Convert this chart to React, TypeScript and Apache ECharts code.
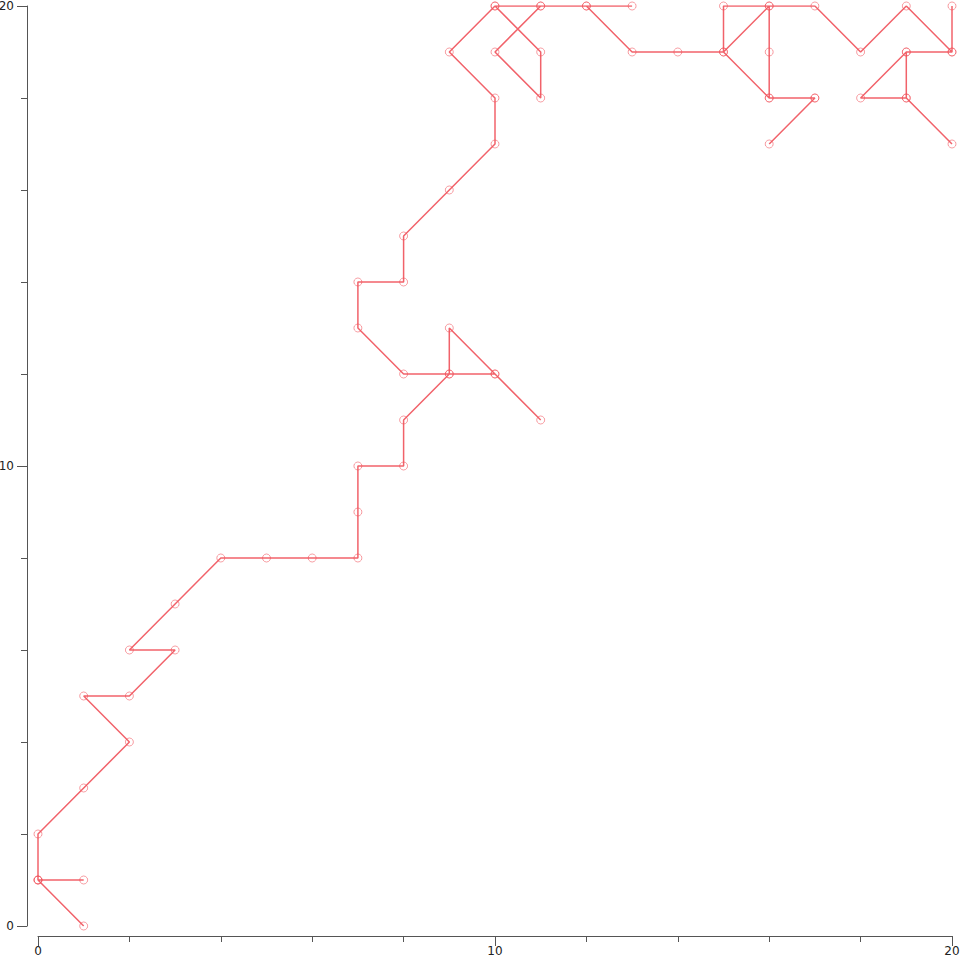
import React, { useEffect, useRef } from "react";
import * as echarts from "echarts";

// Random-walk path, in visiting order
const walkX = [0, 1, 0, 1, 0, 0, 1, 2, 1, 2, 3, 2, 3, 4, 5, 6, 7, 7, 7, 8, 8, 9, 10, 11, 10, 9, 9, 8, 7, 7, 8, 8, 9, 10, 10, 9, 10, 11, 10, 11, 11, 10, 11, 12, 13, 12, 13, 14, 15, 15, 16, 15, 16, 17, 16, 17, 16, 16, 16, 17, 18, 19, 20, 19, 18, 19, 20, 19, 19, 20, 20];
const walkY = [1, 0, 1, 1, 1, 2, 3, 4, 5, 5, 6, 6, 7, 8, 8, 8, 8, 9, 10, 10, 11, 12, 12, 11, 12, 13, 12, 12, 13, 14, 14, 15, 16, 17, 18, 19, 20, 20, 19, 18, 19, 20, 20, 20, 20, 20, 19, 19, 19, 20, 20, 19, 18, 18, 17, 18, 18, 19, 20, 20, 19, 20, 19, 19, 18, 18, 17, 18, 19, 19, 20];

const axisMin = 0;
const axisMax = 20;
const labelStep = 10;

export default function App() {
  const ref = useRef<HTMLDivElement>(null);
  useEffect(() => {
    if (!ref.current) return;
    const chart = echarts.init(ref.current, undefined, { renderer: "svg" });
    const data = walkX.map((x, i) => [x, walkY[i]]);
    const axisCommon = {
      type: "value" as const,
      min: axisMin,
      max: axisMax,
      interval: labelStep,
      splitLine: { show: false },
      axisLine: { show: true, onZero: false, lineStyle: { color: "#555", width: 1 } },
      axisTick: { show: true, length: 10, lineStyle: { color: "#555", width: 1 } },
      minorTick: { show: true, splitNumber: 5, length: 6, lineStyle: { color: "#555", width: 1 } },
      minorSplitLine: { show: false },
    };
    chart.setOption({
      animation: false,
      grid: { left: 38, right: 8, top: 6, bottom: 34, containLabel: false, outerBoundsMode: "none" },
      xAxis: {
        ...axisCommon,
        position: "bottom",
        offset: 10,
        axisLabel: { color: "#222", fontSize: 12, fontFamily: "DejaVu Sans", margin: 9 },
      },
      yAxis: {
        ...axisCommon,
        position: "left",
        offset: 11,
        axisLabel: { color: "#222", fontSize: 12, fontFamily: "DejaVu Sans", margin: 13 },
      },
      series: [
        {
          type: "line",
          data,
          symbol: "circle",
          symbolSize: 8,
          showSymbol: true,
          itemStyle: {
            color: "rgba(0,0,0,0)",
            borderColor: "rgba(240,80,90,0.55)",
            borderWidth: 1,
          },
          lineStyle: { color: "rgba(238,70,80,0.85)", width: 1.5 },
          emphasis: { disabled: true },
        },
      ],
    });
    return () => chart.dispose();
  }, []);
  return (
    <div
      ref={ref}
      style={{ position: "fixed", left: 0, top: 0, width: 960, height: 960, background: "#fff" }}
    />
  );
}
